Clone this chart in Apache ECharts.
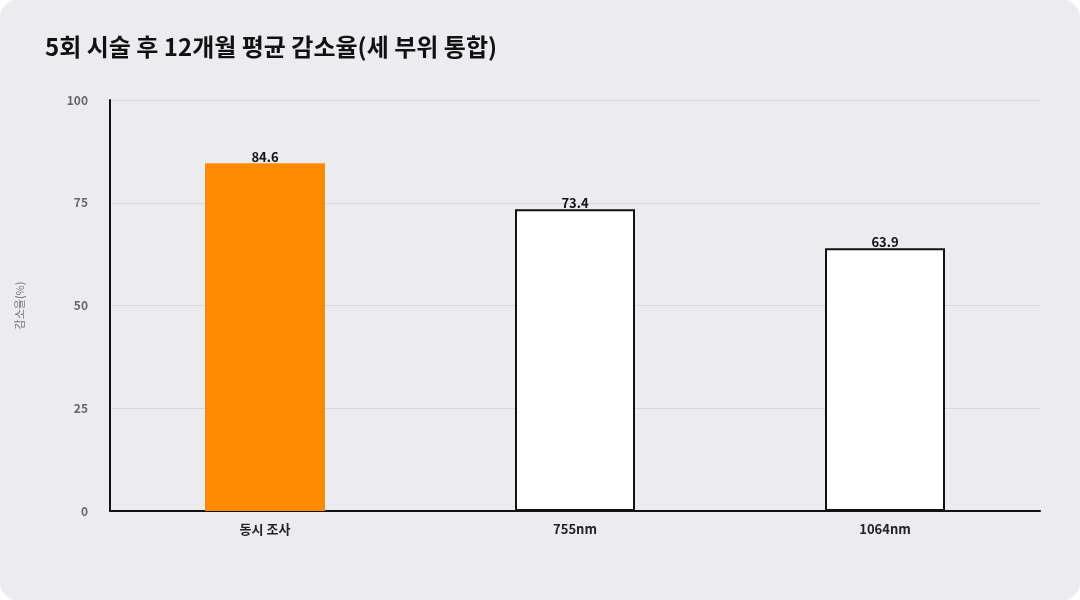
<!DOCTYPE html>
<html><head><meta charset="utf-8">
<script src="https://cdn.jsdelivr.net/npm/echarts@6/dist/echarts.min.js"></script>
<style>html,body{margin:0;padding:0;background:#fff}#c{width:1080px;height:600px;background:#ECEBF0;border-radius:18px;overflow:hidden}</style>
</head><body><div id="c"></div>
<script>
const title = '5회 시술 후 12개월 평균 감소율(세 부위 통합)';
const categories = ['동시 조사', '755nm', '1064nm'];
const values = [84.6, 73.4, 63.9];
const yTicks = [0, 25, 50, 75, 100];
const font = '"Noto Sans CJK KR", Inter, sans-serif';
const chart = echarts.init(document.getElementById('c'));
chart.setOption({
  backgroundColor: '#ECEBF0',
  textStyle: { fontFamily: font },
  title: { text: title, left: 40, top: 30, textStyle: { fontSize: 24, fontWeight: 'bold', color: '#111', fontFamily: font } },
  grid: { left: 110, right: 40, top: 100, bottom: 89 },
  xAxis: {
    type: 'category', data: categories,
    axisLine: { lineStyle: { color: '#111', width: 2 } },
    axisTick: { show: false },
    axisLabel: { color: '#222', fontSize: 13, fontWeight: 'bold', margin: 12 }
  },
  yAxis: {
    type: 'value', min: yTicks[0], max: yTicks[yTicks.length - 1], interval: 25,
    name: '감소율(%)', nameLocation: 'middle', nameGap: 85, nameRotate: 90,
    nameTextStyle: { color: '#777', fontSize: 11 },
    axisLine: { show: true, lineStyle: { color: '#111', width: 2 } },
    axisTick: { show: false },
    axisLabel: { color: '#666', fontSize: 12, fontWeight: 'bold', margin: 22 },
    splitLine: { lineStyle: { color: '#D6D5DB' } }
  },
  series: [{
    type: 'bar', barWidth: 120,
    data: values.map((v, i) => ({
      value: v,
      itemStyle: i === 0 ? { color: '#FF8A00' } : { color: '#fff', borderColor: '#111', borderWidth: 2 }
    })),
    label: { show: true, position: 'top', distance: 0, color: '#111', fontSize: 13, fontWeight: 'bold' }
  }]
});
</script></body></html>
